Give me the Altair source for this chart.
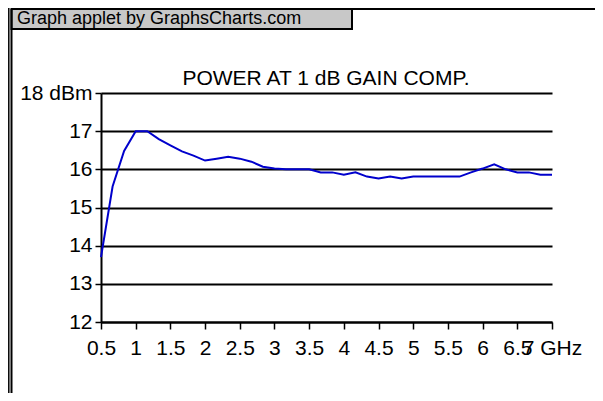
import altair as alt
import pandas as pd

# ---- data ----
freq_ghz = [0.5, 0.667, 0.833, 1.0, 1.167, 1.333, 1.5, 1.667, 1.833, 2.0,
            2.167, 2.333, 2.5, 2.667, 2.833, 3.0, 3.167, 3.333, 3.5, 3.667,
            3.833, 4.0, 4.167, 4.333, 4.5, 4.667, 4.833, 5.0, 5.167, 5.333,
            5.5, 5.667, 5.833, 6.0, 6.167, 6.333, 6.5, 6.667, 6.833, 7.0]
power_dbm = [13.7, 15.55, 16.48, 17.0, 17.0, 16.79, 16.63, 16.47, 16.36, 16.23,
             16.28, 16.33, 16.28, 16.2, 16.07, 16.02, 16.0, 16.0, 16.0, 15.92,
             15.92, 15.86, 15.92, 15.81, 15.76, 15.81, 15.76, 15.81, 15.81, 15.81,
             15.81, 15.81, 15.92, 16.02, 16.13, 16.0, 15.92, 15.92, 15.86, 15.86]
x_ticks = [0.5, 1, 1.5, 2, 2.5, 3, 3.5, 4, 4.5, 5, 5.5, 6, 6.5, 7]
y_ticks = [12, 13, 14, 15, 16, 17, 18]
chart_title = "POWER AT 1 dB GAIN COMP."
banner_text = "Graph applet by GraphsCharts.com"

FONT = "Liberation Sans"
df = pd.DataFrame({"f": freq_ghz, "p": power_dbm})

line = alt.Chart(df).mark_line(color="#0000cc", strokeWidth=2).encode(
    x=alt.X("f:Q", title=None,
            scale=alt.Scale(domain=[0.5, 7], nice=False, zero=False),
            axis=alt.Axis(values=x_ticks, format="~g", grid=False,
                          labelExpr="datum.value == 7 ? '7 GHz' : datum.label",
                          labelOverlap=False, labelFlush=False, labelBound=False,
                          tickSize=7, labelPadding=8)),
    y=alt.Y("p:Q", title=None,
            scale=alt.Scale(domain=[12, 18], nice=False, zero=False),
            axis=alt.Axis(values=y_ticks, format="d", grid=True,
                          gridColor="black", gridWidth=2, gridOpacity=1,
                          labelExpr="datum.value == 18 ? '18 dBm' : datum.label",
                          labelOverlap=False, labelFlush=False, labelBound=False,
                          tickSize=6, labelPadding=3)),
)

one = alt.Data(values=[{"t": chart_title, "b": banner_text}])

title_mark = alt.Chart(one).mark_text(
    fontSize=21, font=FONT, align="center", baseline="alphabetic", color="black"
).encode(x=alt.value(225), y=alt.value(-8), text="t:N")

banner_box = alt.Chart(one).mark_rect(
    fill="#c8c8c8", stroke="black", strokeWidth=2
).encode(x=alt.value(-89.5), x2=alt.value(251), y=alt.value(-84), y2=alt.value(-64))

banner_label = alt.Chart(one).mark_text(
    fontSize=18, font=FONT, align="left", baseline="alphabetic", color="black"
).encode(x=alt.value(-84), y=alt.value(-69), text="b:N")

frame_top = alt.Chart(one).mark_rule(color="black", strokeWidth=2).encode(
    x=alt.value(-89.5), x2=alt.value(494), y=alt.value(-84))
frame_left = alt.Chart(one).mark_rule(color="black", strokeWidth=2).encode(
    x=alt.value(-89.5), y=alt.value(-84), y2=alt.value(300))
outer_left = alt.Chart(one).mark_rule(color="black", strokeWidth=1.5).encode(
    x=alt.value(-92.2), y=alt.value(-85), y2=alt.value(300))

chart = alt.layer(
    line, title_mark, banner_box, banner_label, frame_top, frame_left, outer_left
).properties(
    width=451, height=229,
    autosize=alt.AutoSizeParams(type="none"),
    padding={"left": 93, "top": 85, "right": 43, "bottom": 71},
    background="white",
).configure_view(strokeWidth=0).configure_axis(
    labelFont=FONT, labelFontSize=21, labelColor="black",
    domainColor="black", domainWidth=2, tickColor="black", tickWidth=1.5,
)

chart.save("out.html", embed_options={"renderer": "svg", "actions": False})
